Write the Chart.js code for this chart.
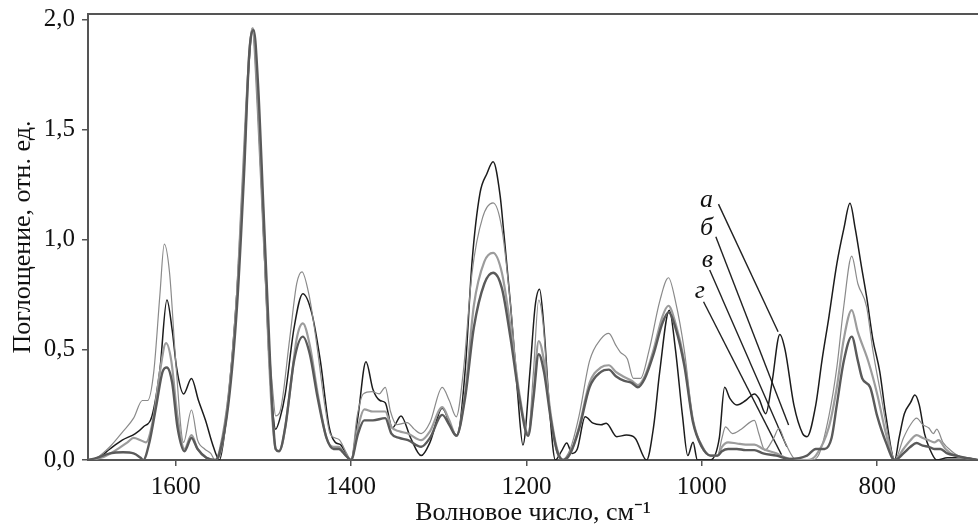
<!DOCTYPE html>
<html><head><meta charset="utf-8">
<script src="https://cdn.jsdelivr.net/npm/chart.js@4.4.1/dist/chart.umd.min.js"></script>
<style>html,body{margin:0;padding:0;background:#fff}#wrap{width:978px;height:527px;position:relative}</style>
</head><body><div id="wrap"><canvas id="c"></canvas></div>
<script>
// ---- data: [wavenumber cm-1, absorbance] ----
const specA = [[1700,0],[1688,0.01],[1675,0.05],[1661,0.09],[1646,0.12],[1637,0.15],[1627,0.2],[1618,0.41],[1610,0.726],[1604,0.59],[1599,0.42],[1591,0.3],[1582,0.37],[1574,0.27],[1566,0.18],[1557,0.06],[1550,0],[1545,0.1],[1535,0.5],[1525,1.1],[1518,1.7],[1512,1.955],[1506,1.6],[1500,1.05],[1494,0.5],[1490,0.25],[1486,0.14],[1481,0.19],[1475,0.3],[1465,0.6],[1455,0.755],[1445,0.67],[1435,0.45],[1425,0.15],[1418,0.08],[1412,0.07],[1405,0.02],[1400,0],[1392,0.2],[1383,0.446],[1375,0.32],[1367,0.27],[1361,0.26],[1353,0.145],[1343,0.2],[1332,0.1],[1320,0.02],[1310,0.08],[1296,0.235],[1285,0.14],[1279,0.11],[1270,0.4],[1262,0.9],[1253,1.21],[1245,1.3],[1238,1.353],[1230,1.2],[1226,1.04],[1218,0.7],[1210,0.3],[1204,0.068],[1196,0.4],[1190,0.7],[1185,0.775],[1180,0.6],[1174,0.25],[1167,0],[1160,0.04],[1154,0.077],[1148,0.03],[1142,0.05],[1133,0.196],[1124,0.167],[1115,0.16],[1109,0.167],[1097,0.106],[1086,0.113],[1076,0.099],[1063,0],[1055,0.15],[1048,0.4],[1037,0.68],[1030,0.5],[1022,0.2],[1016,0.02],[1010,0.08],[1005,0],[990,0],[980,0.1],[974,0.33],[968,0.28],[960,0.25],[950,0.27],[940,0.3],[935,0.28],[927,0.21],[920,0.35],[911,0.57],[905,0.5],[895,0.25],[885,0.12],[880,0.106],[870,0.25],[863,0.45],[855,0.65],[846,0.89],[838,1.05],[831,1.165],[825,1.05],[818,0.88],[812,0.74],[805,0.55],[797,0.4],[790,0.2],[780,0],[775,0.1],[769,0.21],[762,0.26],[757,0.295],[752,0.25],[746,0.12],[740,0.05],[732,0],[720,0.01],[700,0.01],[685,0]];

const specB = [[1700,0],[1690,0.01],[1675,0.06],[1660,0.13],[1648,0.19],[1638,0.27],[1632,0.27],[1625,0.4],[1618,0.75],[1613,0.98],[1607,0.85],[1600,0.45],[1591,0.08],[1582,0.227],[1575,0.09],[1567,0.05],[1560,0.03],[1555,0],[1550,0.05],[1540,0.3],[1532,0.65],[1525,1.2],[1518,1.75],[1513,1.96],[1507,1.6],[1500,1.0],[1494,0.55],[1489,0.3],[1486,0.2],[1481,0.22],[1470,0.55],[1462,0.8],[1456,0.854],[1448,0.75],[1440,0.55],[1430,0.25],[1424,0.12],[1418,0.1],[1413,0.09],[1405,0.03],[1400,0],[1393,0.2],[1386,0.3],[1376,0.31],[1368,0.3],[1361,0.33],[1355,0.22],[1348,0.16],[1336,0.17],[1328,0.14],[1320,0.12],[1310,0.17],[1296,0.33],[1288,0.27],[1280,0.196],[1272,0.4],[1262,0.85],[1250,1.1],[1238,1.167],[1228,1.05],[1218,0.7],[1210,0.35],[1198,0.12],[1192,0.4],[1186,0.726],[1181,0.62],[1175,0.3],[1168,0.08],[1160,0],[1150,0.05],[1140,0.2],[1128,0.45],[1115,0.55],[1106,0.575],[1098,0.52],[1093,0.49],[1085,0.46],[1078,0.37],[1070,0.37],[1060,0.5],[1048,0.72],[1038,0.827],[1030,0.72],[1020,0.5],[1010,0.18],[1000,0.07],[990,0.02],[982,0.02],[977,0.1],[973,0.15],[965,0.12],[955,0.14],[940,0.18],[935,0.12],[928,0.045],[918,0.1],[912,0.144],[905,0.08],[892,0],[875,0],[867,0.02],[855,0.2],[846,0.42],[838,0.7],[829,0.925],[822,0.8],[812,0.695],[805,0.5],[795,0.28],[787,0.1],[780,0],[770,0.1],[762,0.16],[755,0.19],[748,0.16],[741,0.145],[736,0.12],[732,0.14],[725,0.08],[715,0.04],[708,0.02],[700,0.01],[685,0]];

const specV = [[1700,0],[1685,0.01],[1670,0.04],[1655,0.08],[1648,0.1],[1640,0.09],[1634,0.08],[1625,0.2],[1618,0.4],[1611,0.53],[1605,0.45],[1598,0.2],[1590,0.05],[1582,0.113],[1575,0.05],[1565,0.01],[1555,0],[1548,0.05],[1538,0.35],[1530,0.75],[1522,1.35],[1516,1.85],[1512,1.96],[1507,1.7],[1500,1.1],[1494,0.5],[1490,0.2],[1486,0.05],[1483,0.04],[1478,0.08],[1470,0.3],[1462,0.55],[1455,0.62],[1447,0.52],[1438,0.3],[1428,0.1],[1420,0.06],[1414,0.06],[1406,0.02],[1400,0],[1392,0.15],[1385,0.23],[1375,0.22],[1361,0.22],[1354,0.15],[1345,0.13],[1335,0.12],[1320,0.09],[1310,0.13],[1296,0.24],[1288,0.18],[1280,0.11],[1270,0.3],[1260,0.7],[1248,0.9],[1238,0.94],[1228,0.85],[1218,0.6],[1208,0.3],[1198,0.12],[1192,0.3],[1186,0.54],[1180,0.45],[1172,0.2],[1165,0.05],[1158,0],[1150,0.03],[1140,0.15],[1128,0.35],[1115,0.42],[1106,0.43],[1098,0.4],[1089,0.378],[1080,0.36],[1073,0.34],[1065,0.38],[1055,0.5],[1045,0.65],[1038,0.7],[1030,0.62],[1020,0.45],[1010,0.18],[1000,0.06],[990,0.02],[982,0.02],[977,0.06],[970,0.08],[960,0.075],[950,0.07],[940,0.07],[930,0.05],[915,0.03],[900,0.005],[880,0],[870,0.02],[855,0.15],[846,0.33],[838,0.55],[829,0.68],[822,0.58],[810,0.446],[800,0.3],[790,0.12],[780,0],[770,0.05],[762,0.09],[755,0.113],[748,0.1],[741,0.09],[735,0.08],[730,0.09],[722,0.05],[712,0.02],[700,0.01],[685,0]];

const specG = [[1700,0],[1690,0.01],[1675,0.03],[1660,0.035],[1648,0.03],[1640,0.01],[1637,0],[1630,0.08],[1622,0.25],[1615,0.4],[1610,0.42],[1604,0.35],[1598,0.15],[1590,0.04],[1582,0.1],[1575,0.05],[1565,0.01],[1555,0],[1550,0.03],[1540,0.25],[1530,0.7],[1522,1.3],[1516,1.85],[1511,1.95],[1506,1.7],[1500,1.15],[1494,0.6],[1490,0.25],[1486,0.05],[1482,0.04],[1475,0.15],[1465,0.45],[1455,0.56],[1447,0.48],[1438,0.28],[1428,0.1],[1420,0.05],[1414,0.05],[1406,0.02],[1400,0],[1392,0.12],[1385,0.18],[1375,0.18],[1361,0.19],[1354,0.12],[1345,0.1],[1335,0.09],[1320,0.06],[1310,0.1],[1296,0.205],[1288,0.16],[1280,0.11],[1270,0.28],[1260,0.6],[1248,0.8],[1238,0.85],[1228,0.78],[1218,0.55],[1208,0.28],[1198,0.11],[1192,0.28],[1186,0.48],[1180,0.4],[1172,0.18],[1165,0.04],[1158,0],[1150,0.03],[1140,0.14],[1128,0.33],[1115,0.4],[1106,0.41],[1098,0.38],[1089,0.36],[1080,0.35],[1073,0.33],[1065,0.37],[1055,0.48],[1045,0.62],[1038,0.67],[1030,0.6],[1020,0.43],[1010,0.17],[1000,0.06],[990,0.02],[982,0.02],[977,0.04],[970,0.05],[960,0.05],[950,0.045],[940,0.045],[930,0.03],[915,0.02],[900,0.005],[880,0.02],[870,0.05],[860,0.05],[852,0.1],[846,0.25],[838,0.45],[829,0.56],[822,0.45],[817,0.37],[808,0.33],[800,0.2],[790,0.08],[780,0],[770,0.03],[762,0.06],[755,0.077],[748,0.065],[741,0.06],[735,0.05],[728,0.05],[720,0.03],[710,0.02],[700,0.01],[685,0]];

const seriesNames = ['а','б','в','г'];
const labelAnchors = [[1002,1.147],[1002,1.02],[1000,0.875],[1008,0.735]];
const leaderLines = [
  [[981,1.161],[913,0.582]],
  [[984,1.013],[901,0.159]],
  [[991,0.862],[903,0.06]],
  [[998,0.718],[909,0.023]]
];
const xTicks = [800,1000,1200,1400,1600];
const yTicks = [0,0.5,1.0,1.5,2.0];
const xTitle = 'Волновое число, см⁻¹';
const yTitle = 'Поглощение, отн. ед.';

// ---- chart ----
const FAMILY = '"Liberation Serif", "Times New Roman", serif';
const toPts = arr => arr.map(p => ({x: p[0], y: p[1]}));
const line = (arr, color, width) => ({data: toPts(arr), borderColor: color, borderWidth: width,
  pointRadius: 0, fill: false, cubicInterpolationMode: 'monotone'});

const datasets = [
  line(specG, '#5a5a5a', 2.4),
  line(specV, '#9c9c9c', 2.2),
  line(specB, '#8a8a8a', 1.2),
  line(specA, '#1c1c1c', 1.5)
];
leaderLines.forEach(l => datasets.push({data: toPts(l), borderColor: '#222', borderWidth: 1.4,
  pointRadius: 0, fill: false, tension: 0}));

const decor = {
  id: 'decor',
  afterDraw(chart) {
    const {ctx, chartArea: a, scales: {x, y}} = chart;
    ctx.save();
    ctx.strokeStyle = '#555';
    ctx.lineWidth = 2;
    ctx.beginPath();
    ctx.moveTo(a.left - 1, a.top);
    ctx.lineTo(a.right, a.top);
    ctx.stroke();
    ctx.fillStyle = '#111';
    ctx.font = 'italic 26px ' + FAMILY;
    ctx.textAlign = 'left';
    ctx.textBaseline = 'alphabetic';
    seriesNames.forEach((n, i) => {
      ctx.fillText(n, x.getPixelForValue(labelAnchors[i][0]), y.getPixelForValue(labelAnchors[i][1]));
    });
    ctx.restore();
  }
};

const noPad = s => { s.paddingTop = 0; s.paddingBottom = 0; s.paddingLeft = 0; s.paddingRight = 0; };

new Chart(document.getElementById('c'), {
  type: 'line',
  data: {datasets},
  plugins: [decor],
  options: {
    responsive: true, maintainAspectRatio: false, animation: false,
    layout: {padding: {top: 14, left: 0, right: 0, bottom: 0}},
    plugins: {legend: {display: false}, tooltip: {enabled: false}},
    scales: {
      x: {
        type: 'linear', reverse: true, min: 685, max: 1700,
        afterBuildTicks: s => { s.ticks = xTicks.map(v => ({value: v})); },
        afterFit: s => { s.height = 67; noPad(s); },
        grid: {drawOnChartArea: false, drawTicks: true, tickLength: 6, color: '#555', lineWidth: 1.5},
        border: {color: '#555', width: 2},
        ticks: {font: {family: FAMILY, size: 25}, color: '#111', padding: 6, maxRotation: 0, autoSkip: false,
          callback: v => String(v)},
        title: {display: true, text: xTitle, color: '#111', font: {family: FAMILY, size: 26, lineHeight: 1.05}, padding: {top: 0, bottom: 0}}
      },
      y: {
        type: 'linear', min: 0, max: 2.024,
        afterBuildTicks: s => { s.ticks = yTicks.map(v => ({value: v})); },
        afterFit: s => { s.width = 88; noPad(s); },
        grid: {drawOnChartArea: false, drawTicks: true, tickLength: 6, color: '#555', lineWidth: 1.5},
        border: {color: '#555', width: 2},
        ticks: {font: {family: FAMILY, size: 25}, color: '#111', padding: 7,
          callback: v => v.toFixed(1).replace('.', ',')},
        title: {display: true, text: yTitle, color: '#111', font: {family: FAMILY, size: 26, lineHeight: 1.2}, padding: {top: 8, bottom: 0}}
      }
    }
  }
});
</script></body></html>
